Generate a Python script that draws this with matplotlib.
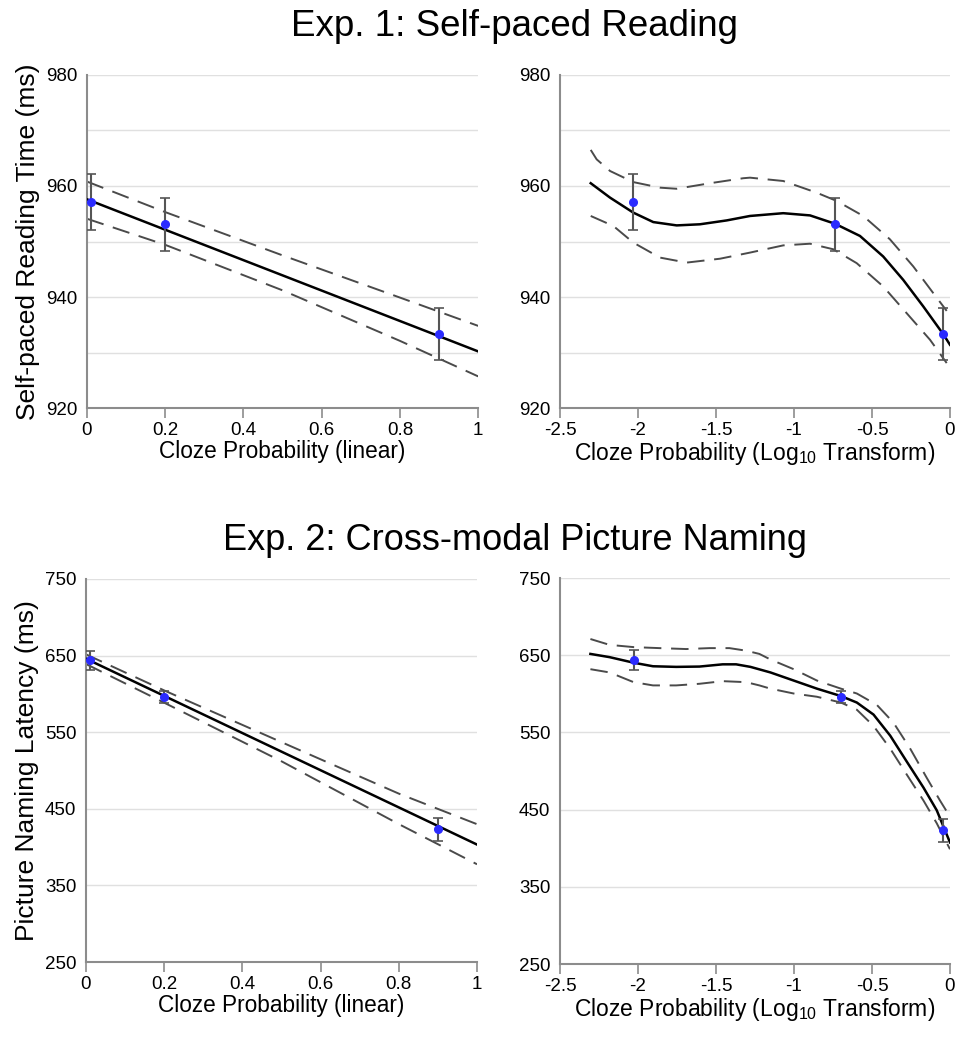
import numpy as np
import matplotlib
matplotlib.use('Agg')
import matplotlib.pyplot as plt

plt.rcParams['font.family'] = ['Liberation Sans', 'DejaVu Sans']
plt.rcParams['mathtext.default'] = 'regular'

# ---- Exp. 1 (self-paced reading) ----
e1_lin_x = [0.01, 0.2, 0.9]
e1_log_x = [-2.03, -0.737, -0.043]
e1_mean = [957.1, 953.1, 933.3]
e1_err = [5.0, 4.8, 4.7]

e1_lin_fit_x = [0.0, 1.0]
e1_lin_fit = [957.6, 930.2]
e1_lin_band_x = [0.0, 0.2, 0.5, 0.8, 1.0]
e1_lin_upper = [960.8, 955.3, 947.5, 939.9, 934.8]
e1_lin_lower = [954.1, 949.4, 941.2, 932.1, 925.7]

e1_log_fit_x = [-2.303, -2.179, -2.03, -1.902, -1.752, -1.603, -1.431, -1.282,
                -1.069, -0.897, -0.737, -0.577, -0.428, -0.300, -0.171, -0.043, 0.0]
e1_log_fit = [960.5, 957.9, 955.2, 953.5, 952.9, 953.1, 953.8, 954.6,
              955.1, 954.7, 953.2, 951.0, 947.3, 943.1, 938.3, 933.3, 931.4]
e1_log_up_x = [-2.303, -2.265, -2.179, -2.03, -1.859, -1.752, -1.538, -1.325,
               -1.282, -1.069, -0.855, -0.726, -0.556, -0.385, -0.235, -0.107, -0.021]
e1_log_upper = [966.5, 964.8, 962.7, 960.7, 959.7, 959.5, 960.5, 961.4,
                961.5, 960.9, 958.8, 957.3, 954.6, 950.4, 945.5, 940.7, 937.5]
e1_log_lo_x = [-2.303, -2.158, -2.03, -1.859, -1.688, -1.474, -1.282, -1.069,
               -0.897, -0.748, -0.598, -0.428, -0.278, -0.128, -0.021]
e1_log_lower = [954.6, 952.8, 949.8, 947.1, 946.2, 946.9, 948.0, 949.3,
                949.6, 948.6, 946.1, 941.9, 937.1, 932.3, 928.1]

# ---- Exp. 2 (picture naming) ----
e2_lin_x = [0.01, 0.2, 0.9]
e2_log_x = [-2.028, -0.699, -0.047]
e2_mean = [643.8, 596.0, 423.1]
e2_err = [12.5, 8.0, 14.8]

e2_lin_fit_x = [0.0, 1.0]
e2_lin_fit = [645.9, 403.3]
e2_lin_band_x = [0.0, 0.2, 0.5, 0.8, 1.0]
e2_lin_upper = [651.6, 604.5, 537.0, 469.8, 429.9]
e2_lin_lower = [639.0, 588.5, 512.0, 430.0, 377.6]

e2_log_fit_x = [-2.305, -2.182, -2.028, -1.904, -1.755, -1.606, -1.457, -1.371,
                -1.279, -1.151, -1.002, -0.853, -0.699, -0.597, -0.490, -0.383,
                -0.277, -0.170, -0.085, -0.042, 0.0]
e2_log_fit = [651.7, 647.5, 640.3, 635.7, 634.9, 635.3, 638.2, 638.2,
              634.9, 627.7, 617.2, 606.7, 597.1, 588.7, 573.1, 545.8,
              512.2, 478.6, 449.2, 428.2, 407.5]
e2_log_up_x = [-2.305, -2.182, -2.028, -1.862, -1.691, -1.542, -1.414, -1.307,
               -1.222, -1.151, -1.002, -0.853, -0.699, -0.597, -0.469, -0.362,
               -0.255, -0.149, -0.064, 0.0]
e2_log_upper = [671.0, 663.4, 660.5, 659.2, 658.0, 659.2, 659.2, 655.9,
                651.7, 644.5, 631.9, 617.2, 606.7, 600.4, 585.7, 562.6,
                529.0, 491.2, 461.8, 440.8]
e2_log_lo_x = [-2.305, -2.182, -2.028, -1.904, -1.755, -1.606, -1.457, -1.307,
               -1.222, -1.151, -1.002, -0.853, -0.699, -0.597, -0.490, -0.383,
               -0.277, -0.170, -0.085, 0.0]
e2_log_lower = [631.9, 627.7, 615.1, 610.9, 610.9, 613.0, 616.4, 615.1,
                610.9, 606.7, 600.4, 596.2, 588.7, 579.4, 558.4, 529.0,
                495.4, 461.8, 432.4, 398.7]

GRAY = '#8c8c8c'
DASH = '#4a4a4a'


def style_axes(ax, xlim, xticks, xticklabels, ylim, yticks, grid_ticks):
    ax.set_xlim(*xlim)
    ax.set_ylim(*ylim)
    ax.set_xticks(xticks)
    ax.set_xticklabels(xticklabels)
    ax.set_yticks(yticks)
    ax.set_yticks(grid_ticks, minor=True)
    for s in ['top', 'right']:
        ax.spines[s].set_visible(False)
    for s in ['left', 'bottom']:
        ax.spines[s].set_color(GRAY)
        ax.spines[s].set_linewidth(1.5)
    ax.tick_params(axis='x', length=7, width=1.2, color=GRAY, labelsize=13.5, pad=3)
    ax.tick_params(axis='y', which='both', length=0, labelsize=13.5, pad=7)
    ax.grid(axis='y', which='both', color='#e0e0e0', lw=1)
    ax.set_axisbelow(True)


def draw(ax, px, mean, err, fx, fy, ux, uy, lx, ly):
    ax.plot(ux, uy, color=DASH, lw=1.4, dashes=(9, 5), zorder=2)
    ax.plot(lx, ly, color=DASH, lw=1.4, dashes=(9, 5), zorder=2)
    ax.plot(fx, fy, color='black', lw=1.8, zorder=3)
    ax.errorbar(px, mean, yerr=err, fmt='none', ecolor='#555555', elinewidth=1.5,
                capsize=3.5, capthick=1.2, zorder=4)
    ax.plot(px, mean, 'o', color='#2b2bff', ms=5.5, zorder=5)


fig = plt.figure(figsize=(9.66, 10.5), dpi=100)

lin_ticks = [0, 0.2, 0.4, 0.6, 0.8, 1]
lin_labels = ['0', '0.2', '0.4', '0.6', '0.8', '1']
log_ticks = [-2.5, -2, -1.5, -1, -0.5, 0]
log_labels = ['-2.5', '-2', '-1.5', '-1', '-0.5', '0']
lin_xlabel = 'Cloze Probability (linear)'
log_xlabel = r'Cloze Probability (Log$_{10}$ Transform)'

ax1 = fig.add_axes([0.090, 0.6114, 0.405, 0.3172])
draw(ax1, e1_lin_x, e1_mean, e1_err, e1_lin_fit_x, e1_lin_fit,
     e1_lin_band_x, e1_lin_upper, e1_lin_band_x, e1_lin_lower)
style_axes(ax1, (0, 1), lin_ticks, lin_labels, (920, 980),
           range(920, 981, 20), range(930, 981, 10))
ax1.set_xlabel(lin_xlabel, fontsize=16.3, labelpad=1)
ax1.set_ylabel('Self-paced Reading Time (ms)', fontsize=19, labelpad=4)

ax2 = fig.add_axes([0.5797, 0.6114, 0.4037, 0.3172])
draw(ax2, e1_log_x, e1_mean, e1_err, e1_log_fit_x, e1_log_fit,
     e1_log_up_x, e1_log_upper, e1_log_lo_x, e1_log_lower)
style_axes(ax2, (-2.5, 0), log_ticks, log_labels, (920, 980),
           range(920, 981, 20), range(930, 981, 10))
ax2.set_xlabel(log_xlabel, fontsize=16.5, labelpad=1)

ax3 = fig.add_axes([0.089, 0.0838, 0.4048, 0.3648])
draw(ax3, e2_lin_x, e2_mean, e2_err, e2_lin_fit_x, e2_lin_fit,
     e2_lin_band_x, e2_lin_upper, e2_lin_band_x, e2_lin_lower)
style_axes(ax3, (0, 1), lin_ticks, lin_labels, (250, 750),
           range(250, 751, 100), range(250, 751, 100))
ax3.set_xlabel(lin_xlabel, fontsize=16.3, labelpad=1)
ax3.set_ylabel('Picture Naming Latency (ms)', fontsize=19, labelpad=4)

ax4 = fig.add_axes([0.5797, 0.0819, 0.4037, 0.3676])
draw(ax4, e2_log_x, e2_mean, e2_err, e2_log_fit_x, e2_log_fit,
     e2_log_up_x, e2_log_upper, e2_log_lo_x, e2_log_lower)
style_axes(ax4, (-2.5, 0), log_ticks, log_labels, (250, 750),
           range(250, 751, 100), range(250, 751, 100))
ax4.set_xlabel(log_xlabel, fontsize=16.5, labelpad=1)

fig.text(0.533, 0.975, 'Exp. 1: Self-paced Reading', ha='center', va='center', fontsize=26.5)
fig.text(0.533, 0.485, 'Exp. 2: Cross-modal Picture Naming', ha='center', va='center', fontsize=26)

fig.savefig('out.png', dpi=100)
